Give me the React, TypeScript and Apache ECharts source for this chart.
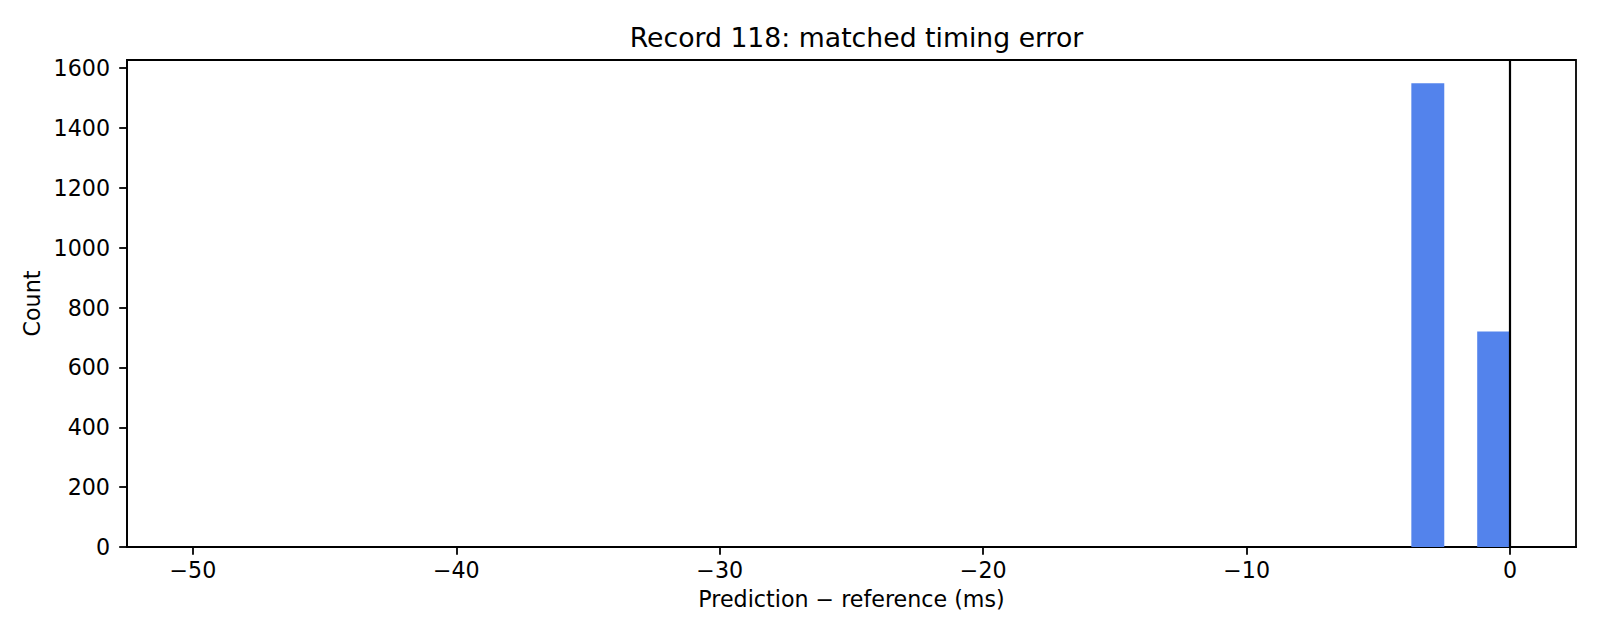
import React, { useEffect, useRef } from "react";
import * as echarts from "echarts";

// Histogram bins: left edges (ms), width 1.25 ms
const binStart = -50;
const binWidth = 1.25;
const counts = [
  0, 0, 0, 0, 0, 0, 0, 0, 0, 0,
  0, 0, 0, 0, 0, 0, 0, 0, 0, 0,
  0, 0, 0, 0, 0, 0, 0, 0, 0, 0,
  0, 0, 0, 0, 0, 0, 0, 1550, 0, 720,
];
const xTicks = [-50, -40, -30, -20, -10, 0];
const yTicks = [0, 200, 400, 600, 800, 1000, 1200, 1400, 1600];
const vLineX = 0;

const FONT = "DejaVu Sans";
const fmtMinus = (v: number) => (v < 0 ? "\u2212" + Math.abs(v) : String(v));

export default function App() {
  const ref = useRef<HTMLDivElement>(null);
  useEffect(() => {
    document.body.style.margin = "0";
    if (!ref.current) return;
    const chart = echarts.init(ref.current, undefined, { renderer: "svg" });
    const data = counts.map((c, i) => [binStart + i * binWidth, binStart + (i + 1) * binWidth, c]);
    const maxC = Math.max(...counts);
    chart.setOption({
      animation: false,
      backgroundColor: "#ffffff",
      title: {
        text: "Record 118: matched timing error",
        left: 851.5,
        textAlign: "center",
        top: 19,
        textStyle: { fontFamily: FONT, fontSize: 26.7, fontWeight: "normal", color: "#000" },
      },
      grid: {
        left: 127,
        right: 24,
        top: 60,
        bottom: 93,
        show: true,
        borderColor: "#000",
        borderWidth: 1.8,
        backgroundColor: "transparent",
      },
      xAxis: {
        type: "value",
        min: -52.5,
        max: 2.5,
        name: "Prediction \u2212 reference (ms)",
        nameLocation: "middle",
        nameGap: 41,
        nameTextStyle: { fontFamily: FONT, fontSize: 22.2, color: "#000" },
        splitLine: { show: false },
        axisLine: { show: true, onZero: false, lineStyle: { color: "#000", width: 1.8 } },
        axisTick: { show: true, length: 7.8, customValues: xTicks, lineStyle: { color: "#000", width: 1.8 } },
        axisLabel: {
          customValues: xTicks,
          margin: 12,
          fontFamily: FONT,
          fontSize: 22.2,
          color: "#000",
          formatter: (v: number) => fmtMinus(v),
        },
      },
      yAxis: {
        type: "value",
        min: 0,
        max: maxC * 1.05,
        name: "Count",
        nameLocation: "middle",
        nameGap: 68,
        nameTextStyle: { fontFamily: FONT, fontSize: 22.2, color: "#000" },
        splitLine: { show: false },
        axisLine: { show: true, onZero: false, lineStyle: { color: "#000", width: 1.8 } },
        axisTick: { show: true, length: 7.8, customValues: yTicks, lineStyle: { color: "#000", width: 1.8 } },
        axisLabel: {
          customValues: yTicks,
          margin: 17,
          fontFamily: FONT,
          fontSize: 22.2,
          color: "#000",
          formatter: (v: number) => String(v),
        },
      },
      series: [
        {
          type: "custom",
          data,
          encode: { x: [0, 1], y: 2 },
          renderItem: (params: any, api: any) => {
            const x0 = api.value(0);
            const x1 = api.value(1);
            const c = api.value(2);
            if (!c) return null;
            const p0 = api.coord([x0, c]);
            const p1 = api.coord([x1, 0]);
            return {
              type: "rect",
              shape: { x: p0[0], y: p0[1], width: p1[0] - p0[0], height: p1[1] - p0[1] },
              style: { fill: "#5383ec" },
            };
          },
          markLine: {
            silent: true,
            symbol: "none",
            label: { show: false },
            lineStyle: { color: "#000", width: 2.2, type: "solid" },
            data: [{ xAxis: vLineX }],
          },
        },
      ],
    });
    return () => chart.dispose();
  }, []);
  return <div ref={ref} style={{ width: 1600, height: 640 }} />;
}
